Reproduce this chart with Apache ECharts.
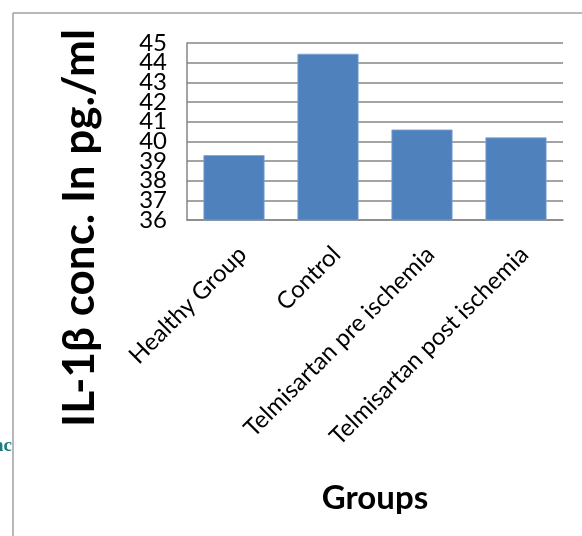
<!DOCTYPE html>
<html>
<head>
<meta charset="utf-8">
<script src="https://cdn.jsdelivr.net/npm/echarts@6/dist/echarts.min.js"></script>
<style>
html,body{margin:0;padding:0;background:#fff;}
#chart{width:582px;height:536px;}
</style>
</head>
<body>
<div id="chart"></div>
<script>
const categories = ["Healthy Group", "Control", "Telmisartan pre ischemia", "Telmisartan post ischemia"];
const il1bValues = [39.3, 44.45, 40.6, 40.2];
const yMin = 36, yMax = 45, yStep = 1;
const yTitle = "IL-1β conc. In pg./ml";
const xTitle = "Groups";

const labelStyle = {margin: 20, fontFamily: 'Lato', fontSize: 24, color: '#000'};

const chart = echarts.init(document.getElementById('chart'), null, {renderer: 'canvas'});
chart.setOption({
  animation: false,
  backgroundColor: '#fff',
  grid: {left: 187, right: 19, top: 43, bottom: 316, containLabel: false, outerBoundsMode: 'none'},
  graphic: [
    {type: 'line', shape: {x1: 13, y1: 13, x2: 582, y2: 13}, style: {stroke: '#a0a0a0', lineWidth: 1.5}},
    {type: 'line', shape: {x1: 13, y1: 13, x2: 13, y2: 536}, style: {stroke: '#a0a0a0', lineWidth: 1.5}},
    {type: 'text', x: 12, y: 446, z: -1,
     style: {text: 'ac', align: 'right', verticalAlign: 'middle', font: 'bold 19px "Liberation Serif"', fill: '#1a7c7c'}},
    {type: 'text', x: 80, y: 228, rotation: Math.PI / 2,
     style: {text: yTitle, align: 'center', verticalAlign: 'middle', font: 'bold 44px Lato', fill: '#000'}}
  ],
  xAxis: {
    type: 'category',
    data: categories,
    axisLine: {show: true, lineStyle: {color: '#868686', width: 1.5}},
    axisTick: {show: false},
    axisLabel: {rotate: 45, margin: 22, verticalAlign: 'top', fontFamily: 'Lato', fontSize: 24, color: '#000', interval: 0},
    name: xTitle,
    nameLocation: 'middle',
    nameGap: 262,
    nameTextStyle: {fontFamily: 'Lato', fontWeight: 'bold', fontSize: 33, color: '#000'}
  },
  yAxis: [{
    type: 'value',
    min: yMin, max: yMax, interval: yStep,
    axisLine: {show: true, lineStyle: {color: '#868686', width: 1.5}},
    axisTick: {show: false},
    splitLine: {show: true, lineStyle: {color: '#868686', width: 1.5}},
    axisLabel: Object.assign({showMinLabel: false, showMaxLabel: false}, labelStyle)
  }, {
    type: 'value',
    position: 'left',
    min: yMin, max: yMax, interval: yStep,
    axisLine: {show: false},
    axisTick: {show: false},
    splitLine: {show: false},
    axisLabel: Object.assign({showMinLabel: true, showMaxLabel: true,
      formatter: v => (v === yMin || v === yMax) ? String(v) : ''}, labelStyle)
  }],
  series: [{
    type: 'bar',
    yAxisIndex: 0,
    data: il1bValues,
    barCategoryGap: '35%',
    itemStyle: {color: '#4f81bd', borderColor: '#7fa3cf', borderWidth: 0.8}
  }]
});
</script>
</body>
</html>
